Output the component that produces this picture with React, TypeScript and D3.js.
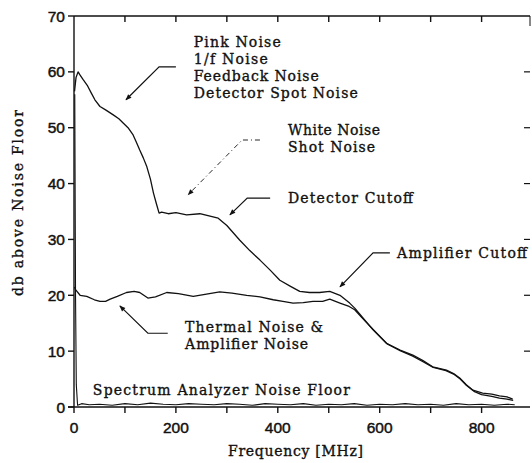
import { line, scaleLinear } from "d3";
import React from "react";

// upper trace: pink/white noise + detector and amplifier roll-off
const signalFreq = [
  1, 4, 8, 12, 18, 26, 34, 41, 51, 62, 77, 88, 97, 106, 116, 122, 129, 136,
  143, 150, 156, 162, 167, 172, 185, 200, 221, 247, 265, 283, 300, 325, 345,
  365, 385, 404, 425, 443, 462, 482, 502, 522, 541, 551, 561, 587, 613, 640,
  665, 685, 704, 731, 745, 757, 770, 783, 802, 820, 835, 850, 861,
];
const signalDb = [
  56.5, 59, 60, 59.4, 58.6, 57.6, 56.2, 55, 53.8, 53.2, 52.3, 51.6, 50.8, 50,
  48.7, 47.5, 46, 44.6, 43, 40.8, 38.3, 36.3, 34.7, 34.9, 34.6, 34.8, 34.4,
  34.6, 34.2, 33.8, 32.5, 29.9, 28, 26.3, 24.5, 22.7, 21.6, 20.7, 20.5, 20.5,
  20.7, 20, 18.6, 17.7, 16.6, 13.8, 11.4, 10.2, 9.3, 8.3, 7.2, 6.6, 6, 5.2, 4,
  3, 2.5, 2.3, 2, 1.8, 1.4,
];

// lower trace: thermal + amplifier noise
const thermalFreq = [
  1, 3, 12, 25, 40, 51, 62, 71, 85, 103, 118, 129, 137, 145, 160, 182, 205,
  234, 260, 286, 310, 339, 365, 391, 410, 430, 450, 469, 488, 502, 522, 540,
  551, 565, 590, 615, 640, 665, 685, 705, 730, 745, 758, 770, 785, 800, 820,
  835, 850, 862,
];
const thermalDb = [
  21.5, 21, 20, 19.8, 19.2, 18.9, 18.9, 19.3, 19.8, 20.5, 20.7, 20.5, 20, 19.5,
  19.7, 20.5, 20.3, 19.8, 20.2, 20.6, 20.4, 20, 19.7, 19.2, 18.9, 18.6, 18.7,
  18.9, 18.9, 19.3, 18.6, 18, 17.4, 16, 13.6, 11.3, 10.1, 9.1, 8.1, 7.1, 6.5,
  5.9, 5, 3.9, 2.8, 2.2, 1.9, 1.6, 1.4, 1.2,
];

// spectrum analyzer noise floor
const floorFreq = [
  1.5, 3, 4.5, 7, 15, 30, 50, 75, 100, 125, 150, 175, 200, 225, 250, 275, 300,
  325, 350, 375, 400, 425, 450, 475, 500, 525, 550, 575, 600, 625, 650, 675,
  700, 725, 750, 775, 800, 825, 850, 865,
];
const floorDb = [
  56, 20, 4, 0.3, 0.6, 0.4, 0.5, 0.3, 0.6, 0.4, 0.7, 0.5, 0.4, 0.6, 0.5, 0.4,
  0.6, 0.5, 0.3, 0.6, 0.5, 0.4, 0.6, 0.3, 0.5, 0.4, 0.6, 0.3, 0.5, 0.4, 0.6,
  0.4, 0.5, 0.3, 0.6, 0.4, 0.5, 0.3, 0.5, 0.4,
];

const xTicks = [0, 200, 400, 600, 800];
const xMinorTicks = [100, 200, 300, 400, 500, 600, 700, 800];
const yTicks = [0, 10, 20, 30, 40, 50, 60, 70];

// annotations: text block anchor and leader arrow (start, knee, head) in data units
const notes = [
  {
    lines: ["Pink Noise", "1/f Noise", "Feedback Noise", "Detector Spot Noise"],
    widths: [87, 74, 125, 164],
    at: [235, 64.4],
    arrow: [[200, 60.9], [167, 60.9], [102, 55]],
    dashed: false,
  },
  {
    lines: ["White Noise", "Shot Noise"],
    widths: [92, 87],
    at: [420, 48.7],
    arrow: [[365, 47.8], [330, 47.8], [224, 38]],
    dashed: true,
  },
  {
    lines: ["Detector Cutoff"],
    widths: [125],
    at: [420, 36.5],
    arrow: [[385, 37.4], [340, 37.4], [306, 34.4]],
    dashed: false,
  },
  {
    lines: ["Amplifier Cutoff"],
    widths: [130],
    at: [634, 26.7],
    arrow: [[620, 27.6], [587, 27.6], [522, 21.5]],
    dashed: false,
  },
  {
    lines: ["Thermal Noise &", "Amplifier Noise"],
    widths: [138, 123],
    at: [218, 13.4],
    arrow: [[184, 13.2], [145, 13.2], [90, 18.1]],
    dashed: false,
  },
  {
    lines: ["Spectrum Analyzer Noise Floor"],
    widths: [257],
    at: [37, 2.1],
    arrow: null,
    dashed: false,
  },
];

const W = 532;
const H = 463;
const serif = "'DejaVu Serif', 'Liberation Serif', serif";
const sans = "'Liberation Sans', Arial, sans-serif";

const zip = (xs: number[], ys: number[]) =>
  xs.map((x, i) => [x, ys[i]] as [number, number]);

const App: React.FC = () => {
  const x = scaleLinear().domain([0, 895]).range([74, 530]);
  const y = scaleLinear().domain([0, 70]).range([407, 16]);

  const path = line<[number, number]>()
    .x((d) => x(d[0]))
    .y((d) => y(d[1]));

  const x0 = x(0);
  const x1 = x(895);
  const y0 = y(0);
  const y1 = y(70);

  return (
    <svg
      width={W}
      height={H}
      style={{ position: "fixed", left: 0, top: 0, background: "#fff" }}
    >
      <defs>
        <marker
          id="head"
          viewBox="0 0 10 10"
          refX={9}
          refY={5}
          markerWidth={7}
          markerHeight={6}
          orient="auto"
          markerUnits="userSpaceOnUse"
        >
          <path d="M0,1 L10,5 L0,9 Z" fill="#111" />
        </marker>
      </defs>

      {/* frame */}
      <g stroke="#111" strokeWidth={1.4} fill="none">
        <line x1={x0} x2={x0} y1={y1} y2={y0 + 6} />
        <line x1={x0 - 6} x2={x1} y1={y0} y2={y0} />
        <line x1={x0} x2={x1} y1={y1} y2={y1} />
        <line x1={x1} x2={x1} y1={y1} y2={y1 + 10} strokeWidth={1} />
        {xMinorTicks.map((t) => (
          <g key={t}>
            <line x1={x(t)} x2={x(t)} y1={y0} y2={y0 + 6} />
            <line x1={x(t)} x2={x(t)} y1={y1} y2={y1 + 6} />
          </g>
        ))}
        {yTicks.map((t) => (
          <g key={t}>
            <line x1={x0 - 6} x2={x0} y1={y(t)} y2={y(t)} />
            {t > 0 && t < 70 && (
              <line x1={x1 - 6} x2={x1} y1={y(t)} y2={y(t)} strokeWidth={1.2} />
            )}
          </g>
        ))}
      </g>

      {/* tick labels */}
      <g
        fontFamily={sans}
        fontSize={15.5}
        fill="#111"
        stroke="#111"
        strokeWidth={0.45}
      >
        {yTicks.map((t) => (
          <text key={t} x={x0 - 9} y={y(t) + 5.5} textAnchor="end">
            {t}
          </text>
        ))}
        {xTicks.map((t) => (
          <text key={t} x={x(t)} y={y0 + 26} textAnchor="middle">
            {t}
          </text>
        ))}
      </g>

      {/* axis titles */}
      <g
        fontFamily={serif}
        fontSize={14}
        fill="#111"
        stroke="#111"
        strokeWidth={0.35}
      >
        <text x={228} y={456} textLength={135} lengthAdjust="spacing">
          Frequency [MHz]
        </text>
        <text
          transform="translate(23,203) rotate(-90)"
          textAnchor="middle"
          textLength={186}
          lengthAdjust="spacing"
        >
          db above Noise Floor
        </text>
      </g>

      {/* traces */}
      <g fill="none" stroke="#111" strokeWidth={1.3} strokeLinejoin="round">
        <path d={path(zip(floorFreq, floorDb))!} strokeWidth={1.1} />
        <path d={path(zip(thermalFreq, thermalDb))!} />
        <path d={path(zip(signalFreq, signalDb))!} />
      </g>

      {/* annotations */}
      {notes.map((n, i) => (
        <g key={i}>
          {n.arrow && (
            <path
              d={path(n.arrow as [number, number][])!}
              fill="none"
              stroke="#111"
              strokeWidth={n.dashed ? 0.9 : 1.2}
              strokeDasharray={n.dashed ? "5 3 1 3" : undefined}
              markerEnd="url(#head)"
            />
          )}
          <text
            fontFamily={serif}
            fontSize={14}
            fill="#111"
            stroke="#111"
            strokeWidth={0.35}
          >
            {n.lines.map((l, j) => (
              <tspan
                key={j}
                x={x(n.at[0])}
                y={y(n.at[1]) + j * 16.8}
                textLength={n.widths[j]}
                lengthAdjust="spacing"
              >
                {l}
              </tspan>
            ))}
          </text>
        </g>
      ))}
    </svg>
  );
};

export default App;
